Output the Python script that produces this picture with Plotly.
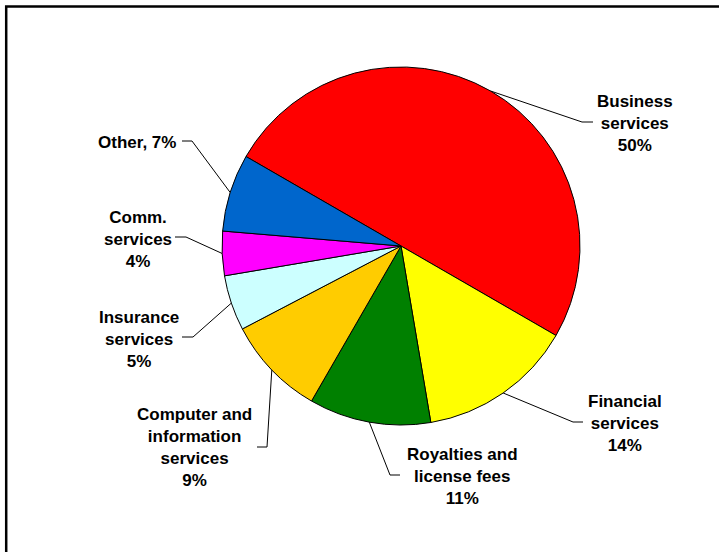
import math
import plotly.graph_objects as go

# ---- data ----
categories = ["Business services", "Financial services", "Royalties and license fees",
              "Computer and information services", "Insurance services",
              "Comm. services", "Other"]
values = [50, 14, 11, 9, 5, 4, 7]
colors = ["#FF0000", "#FFFF00", "#008000", "#FFCC00", "#CCFFFF", "#FF00FF", "#0066CC"]
label_texts = ["Business<br>services<br>50%", "Financial<br>services<br>14%",
               "Royalties and<br>license fees<br>11%",
               "Computer and<br>information<br>services<br>9%",
               "Insurance<br>services<br>5%", "Comm.<br>services<br>4%", "Other, 7%"]

# ---- layout (pixel geometry) ----
W, H = 719, 552
CX, CY, R = 401, 246, 179
ROTATION = -60
# text centres and elbow points of leader lines (pixels)
text_pos = [(635, 123), (625, 423), (462, 476), (194, 447), (139, 339), (138, 239), (137, 143)]
elbows = [(582, 122), (573, 422), (390, 475), (267, 447), (193, 337), (186, 237), (192, 141)]
tails = [(593, 122), (583, 422), (400, 475), (257, 447), (182, 337), (175, 237), (182, 141)]


def px(x):
    return x / W


def py(y):
    return 1 - y / H


fig = go.Figure(go.Pie(
    labels=categories, values=values, sort=False, direction="clockwise",
    rotation=ROTATION, textinfo="none", hoverinfo="label+percent",
    marker=dict(colors=colors, line=dict(color="black", width=1)),
    domain=dict(x=[px(CX - R), px(CX + R)], y=[py(CY + R), py(CY - R)]),
    showlegend=False,
))

shapes = []
annotations = []
total = sum(values)
start = ROTATION
for i, v in enumerate(values):
    span = v / total * 360
    mid = math.radians(start + span / 2)
    start += span
    ex = CX + R * math.sin(mid)
    ey = CY - R * math.cos(mid)
    bx, by = elbows[i]
    tx, ty = tails[i]
    path = f"M {px(ex)},{py(ey)} L {px(bx)},{py(by)} L {px(tx)},{py(ty)}"
    shapes.append(dict(type="path", xref="paper", yref="paper", path=path,
                       line=dict(color="black", width=1)))
    lx, ly = text_pos[i]
    annotations.append(dict(x=px(lx), y=py(ly), xref="paper", yref="paper",
                            text=label_texts[i], showarrow=False,
                            xanchor="center", yanchor="middle", align="center",
                            font=dict(family="Liberation Sans", size=17,
                                      color="black", weight="bold")))

# chart border
shapes.append(dict(type="rect", xref="paper", yref="paper",
                   x0=px(6.2), y0=py(570), x1=px(740), y1=py(6.5),
                   line=dict(color="black", width=2.5), fillcolor="rgba(0,0,0,0)"))

fig.update_layout(width=W, height=H, margin=dict(l=0, r=0, t=0, b=0),
                  paper_bgcolor="white", plot_bgcolor="white",
                  shapes=shapes, annotations=annotations)

fig.write_html("out.html")
